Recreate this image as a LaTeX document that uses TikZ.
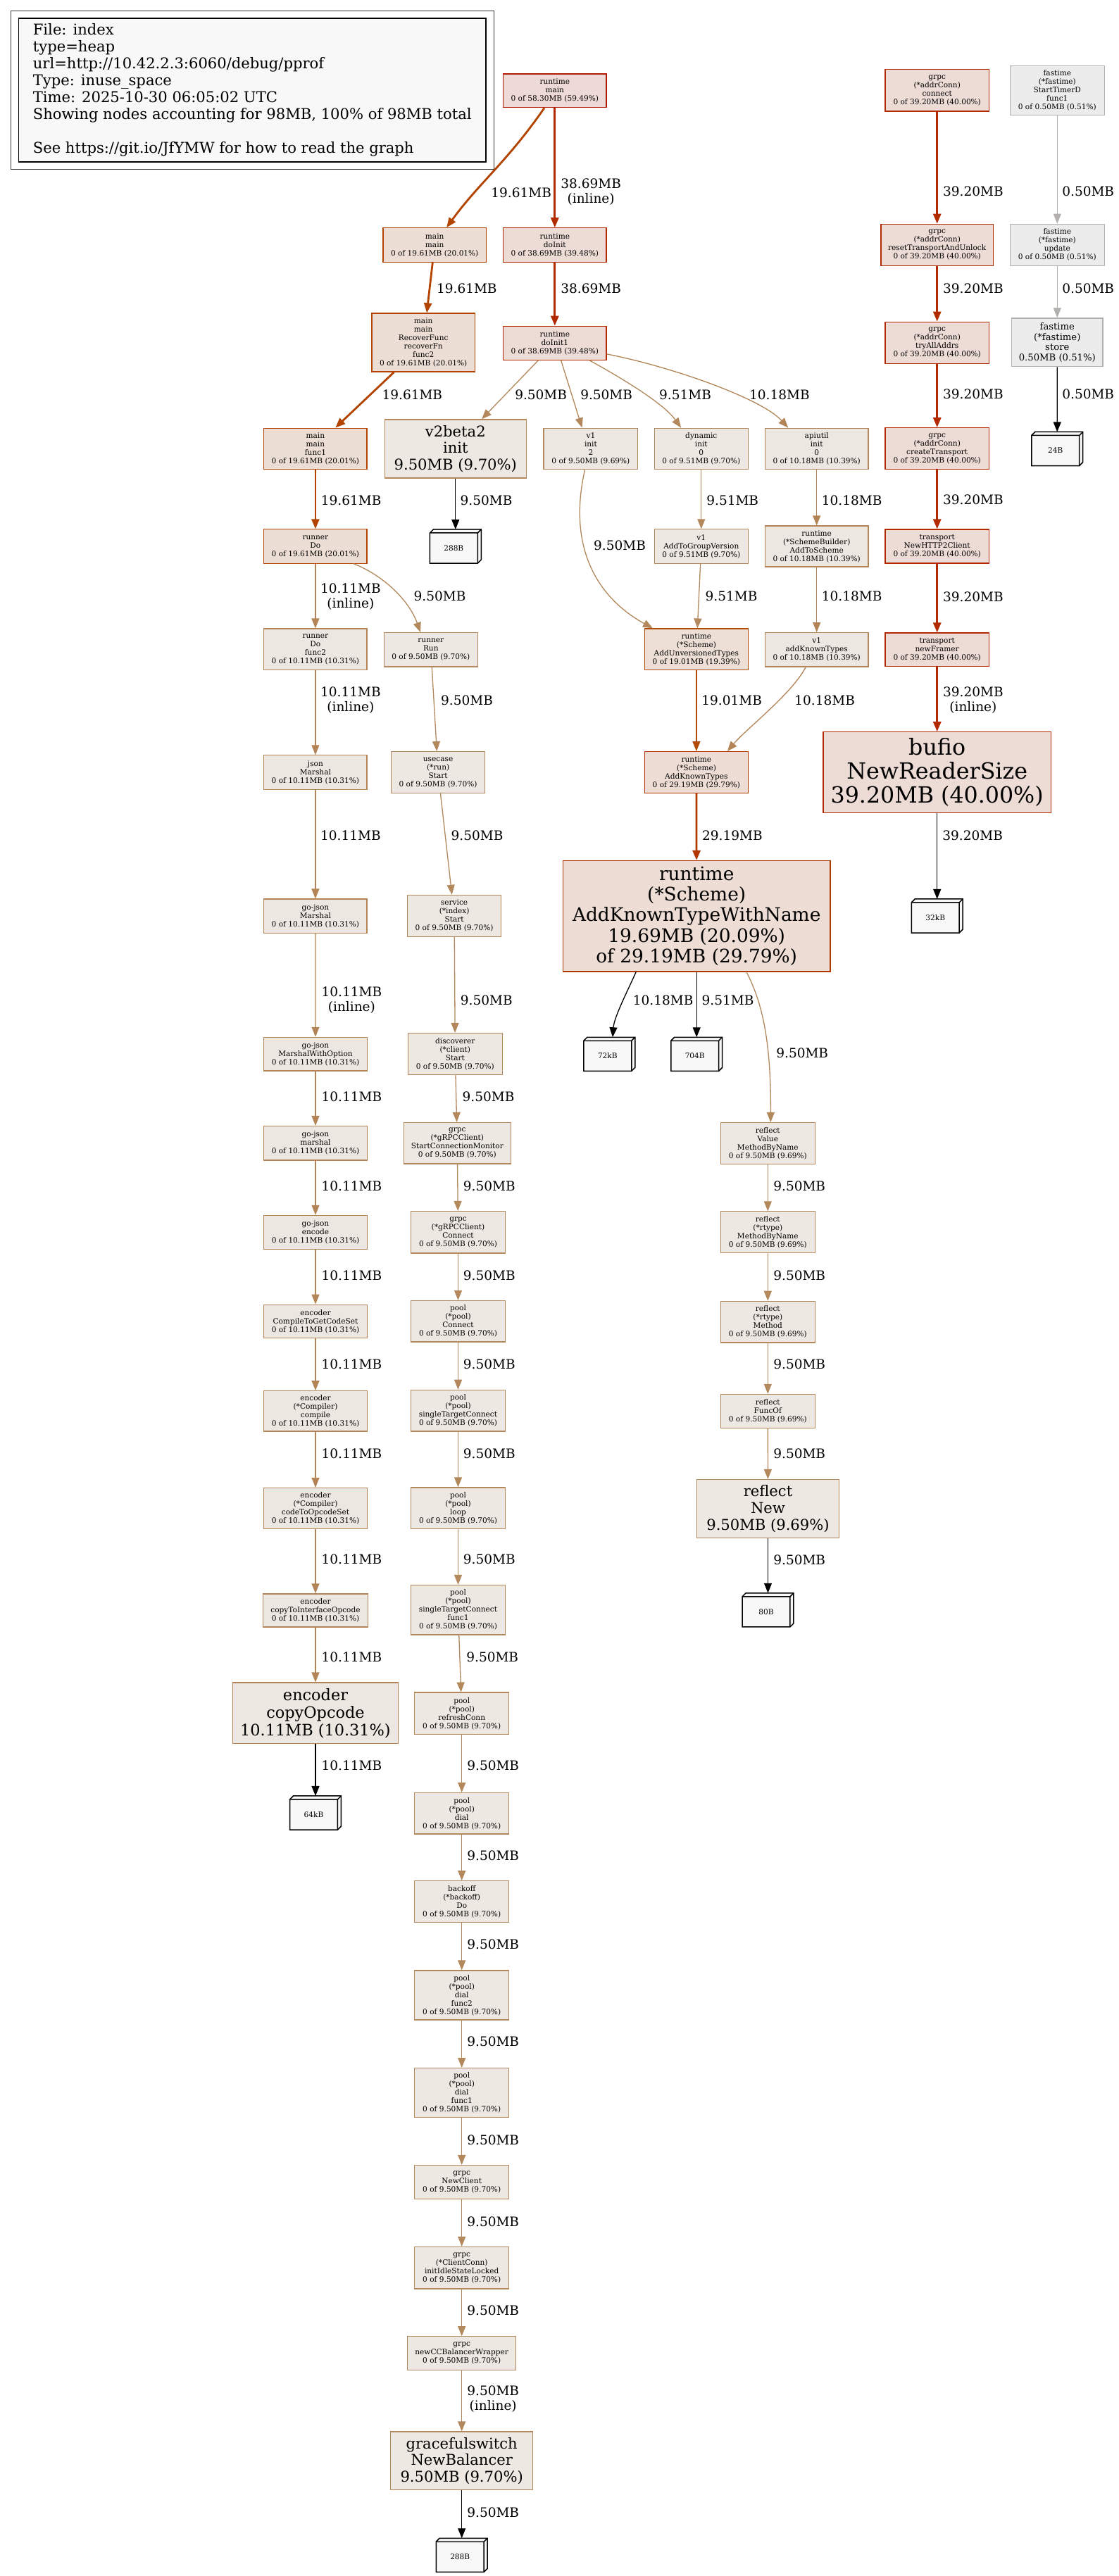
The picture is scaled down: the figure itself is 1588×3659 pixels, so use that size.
\documentclass[tikz,border=0pt]{standalone}
\usepackage{fontspec}
\setmainfont{DejaVu Serif}
\usepackage{xcolor}
\usetikzlibrary{arrows.meta}

\definecolor{hotfill}{HTML}{EDD9D5}\definecolor{hotline}{HTML}{B21A00}
\definecolor{redfill}{HTML}{EDDBD5}\definecolor{redline}{HTML}{B22B00}
\definecolor{rustfill}{HTML}{EDDDD5}\definecolor{rustline}{HTML}{B23600}
\definecolor{orgfill}{HTML}{EDDED5}\definecolor{orgline}{HTML}{B24400}
\definecolor{ambfill}{HTML}{EDDFD6}\definecolor{ambline}{HTML}{B24905}
\definecolor{tanfill}{HTML}{EDE7E1}\definecolor{tanline}{HTML}{B28456}
\definecolor{sandfill}{HTML}{EDE8E2}\definecolor{sandline}{HTML}{B2885C}
\definecolor{greyfill}{HTML}{EDECEC}\definecolor{greyline}{HTML}{B2B1AE}
\definecolor{leaffill}{HTML}{F8F8F8}

\newcommand\fnode{\fontsize{10.56pt}{12pt}\selectfont}
\newcommand\fnodeten{\fontsize{13.2pt}{14.5pt}\selectfont}
\newcommand\fedge{\fontsize{18.5pt}{21pt}\selectfont}
\newcommand\flegend{\fontsize{21.1pt}{24pt}\selectfont}
\newcommand\fbigA{\fontsize{21.1pt}{23.6pt}\selectfont}
\newcommand\fbigB{\fontsize{22.4pt}{25pt}\selectfont}
\newcommand\fbigC{\fontsize{26.4pt}{29.3pt}\selectfont}
\newcommand\fbigD{\fontsize{31.7pt}{33.9pt}\selectfont}

\newcommand\allocbox[3]{%
  \node[alloc] (#1) at (#2) {};
  \filldraw[allocline, fill=leaffill] ([yshift=-5pt]#1.north west) -- ([xshift=5pt]#1.north west) -- (#1.north east)
    -- ([yshift=5pt]#1.south east) -- ([xshift=-5pt]#1.south east) -- (#1.south west) -- cycle;
  \draw[allocline] ([yshift=-5pt]#1.north west) -- ([shift={(-5pt,-5pt)}]#1.north east) -- ([xshift=-5pt]#1.south east)
    ([shift={(-5pt,-5pt)}]#1.north east) -- (#1.north east);
  \node[font=\fnode] at ([shift={(-2.5pt,-2.5pt)}]#1.center) {#3};}

\begin{document}
\begin{tikzpicture}[
  x=1pt, y=-1pt,
  fn/.style={draw, rectangle, align=center, inner sep=1pt, line width=1.2pt, font=\fnode},
  sz/.style 2 args={minimum width=#1pt, minimum height=#2pt},
  n60/.style={fill=hotfill, draw=hotline},
  n40/.style={fill=redfill, draw=redline},
  n30/.style={fill=rustfill, draw=rustline},
  n20/.style={fill=orgfill, draw=orgline},
  n19/.style={fill=ambfill, draw=ambline},
  n10/.style={fill=tanfill, draw=tanline},
  n9/.style={fill=sandfill, draw=sandline},
  n0/.style={fill=greyfill, draw=greyline},
  alloc/.style={rectangle, minimum width=72.5pt, minimum height=47.7pt, inner sep=0pt},
  allocline/.style={draw=black, line width=1.5pt},
  arrow/.style={-{Triangle[length=14pt, width=11pt]}, line width=1.3pt},
  heavy/.style={line width=2.8pt},
  lbl/.style={font=\fedge, text=black, inner sep=0pt, anchor=west, align=center},
  legendbox/.style={draw, fill=leaffill, line width=1.4pt, align=left, font=\flegend,
                    minimum width=663.4pt, minimum height=204pt}
]
\path[use as bounding box, fill=white] (0,0) rectangle (1588,3659);

\node[legendbox] (legend) at (358.3,128) {File: index\\type=heap\\url=http://10.42.2.3:6060/debug/pprof\\Type: inuse\_space\\Time: 2025-10-30 06:05:02 UTC\\Showing nodes accounting for 98MB, 100\% of 98MB total\\[24pt]See https://git.io/JfYMW for how to read the graph};
\draw[line width=1.4pt, black!80] ([shift={(-10.6pt,10pt)}]legend.north west) rectangle ([shift={(10.6pt,-10pt)}]legend.south east);

\node[fn, n60, sz={146.5}{47.8}] (rmain) at (787.8,128.8) {runtime\\main\\0 of 58.30MB (59.49\%)};
\node[fn, n40, sz={147.3}{59.3}] (aconn) at (1330.7,128.3) {grpc\\(*addrConn)\\connect\\0 of 39.20MB (40.00\%)};
\node[fn, n0, sz={134}{70.4}] (ftfunc) at (1501.3,128.5) {fastime\\(*fastime)\\StartTimerD\\func1\\0 of 0.50MB (0.51\%)};
\node[fn, n20, sz={146.4}{48.6}] (mmain) at (617.2,348.1) {main\\main\\0 of 19.61MB (20.01\%)};
\node[fn, n40, sz={146.5}{48.6}] (doinit) at (787.8,348.1) {runtime\\doInit\\0 of 38.69MB (39.48\%)};
\node[fn, n40, sz={159.3}{59}] (areset) at (1330.7,347.8) {grpc\\(*addrConn)\\resetTransportAndUnlock\\0 of 39.20MB (40.00\%)};
\node[fn, n0, sz={134}{59}] (ftupd) at (1501.3,347.8) {fastime\\(*fastime)\\update\\0 of 0.50MB (0.51\%)};
\node[fn, n20, sz={146.4}{83}] (recover) at (601.2,486.5) {main\\main\\RecoverFunc\\recoverFn\\func2\\0 of 19.61MB (20.01\%)};
\node[fn, n40, sz={146.5}{47.8}] (doinit1) at (787.8,487.2) {runtime\\doInit1\\0 of 38.69MB (39.48\%)};
\node[fn, n40, sz={147.3}{59}] (atry) at (1330.7,486.7) {grpc\\(*addrConn)\\tryAllAddrs\\0 of 39.20MB (40.00\%)};
\node[fn, n0, sz={129.3}{68.8}, font=\fnodeten] (ftstore) at (1501.3,486.3) {fastime\\(*fastime)\\store\\0.50MB (0.51\%)};
\node[fn, n20, sz={146.3}{58.6}] (mfunc) at (447.9,637.4) {main\\main\\func1\\0 of 19.61MB (20.01\%)};
\node[fn, n9, sz={200.9}{83}, font=\fbigA] (v2init) at (646.8,637.4) {v2beta2\\init\\9.50MB (9.70\%)};
\node[fn, n9, sz={133.7}{58.6}] (v1init) at (838.9,637.4) {v1\\init\\2\\0 of 9.50MB (9.69\%)};
\node[fn, n9, sz={133.2}{58.6}] (dyninit) at (995.8,637.4) {dynamic\\init\\0\\0 of 9.51MB (9.70\%)};
\node[fn, n10, sz={146.4}{58.6}] (apiinit) at (1159.7,637.4) {apiutil\\init\\0\\0 of 10.18MB (10.39\%)};
\node[fn, n40, sz={147.3}{59}] (actrans) at (1330.7,637.2) {grpc\\(*addrConn)\\createTransport\\0 of 39.20MB (40.00\%)};
\allocbox{b24}{1501.2,637.5}{24B}
\node[fn, n20, sz={146.3}{48.3}] (rdo) at (447.9,776) {runner\\Do\\0 of 19.61MB (20.01\%)};
\allocbox{b288a}{646.8,776}{288B}
\node[fn, n9, sz={133.2}{48.3}] (addgv) at (995.8,776) {v1\\AddToGroupVersion\\0 of 9.51MB (9.70\%)};
\node[fn, n10, sz={146.4}{58}] (addsch) at (1159.7,776) {runtime\\(*SchemeBuilder)\\AddToScheme\\0 of 10.18MB (10.39\%)};
\node[fn, n40, sz={147.3}{48}] (h2client) at (1330.7,776) {transport\\NewHTTP2Client\\0 of 39.20MB (40.00\%)};
\node[fn, n10, sz={146.3}{58.8}] (rdofunc) at (447.9,922.4) {runner\\Do\\func2\\0 of 10.11MB (10.31\%)};
\node[fn, n9, sz={133.2}{48.3}] (rrun) at (611.8,922.8) {runner\\Run\\0 of 9.50MB (9.70\%)};
\node[fn, n19, sz={147}{58.8}] (addunv) at (988.9,922.4) {runtime\\(*Scheme)\\AddUnversionedTypes\\0 of 19.01MB (19.39\%)};
\node[fn, n10, sz={146.4}{48.3}] (addkt) at (1159.7,922.8) {v1\\addKnownTypes\\0 of 10.18MB (10.39\%)};
\node[fn, n40, sz={147.3}{47.4}] (framer) at (1330.7,922.7) {transport\\newFramer\\0 of 39.20MB (40.00\%)};
\node[fn, n10, sz={146.3}{48.3}] (jmarshal) at (447.9,1097) {json\\Marshal\\0 of 10.11MB (10.31\%)};
\node[fn, n9, sz={133.2}{58.8}] (ucstart) at (622.1,1097) {usecase\\(*run)\\Start\\0 of 9.50MB (9.70\%)};
\node[fn, n30, sz={147}{58.8}] (addknown) at (988.9,1097) {runtime\\(*Scheme)\\AddKnownTypes\\0 of 29.19MB (29.79\%)};
\node[fn, n40, sz={323.3}{114.5}, font=\fbigD] (bufio) at (1330.7,1097) {bufio\\NewReaderSize\\39.20MB (40.00\%)};
\node[fn, n10, sz={146.3}{48.3}] (gjmarshal) at (447.9,1301.2) {go-json\\Marshal\\0 of 10.11MB (10.31\%)};
\node[fn, n9, sz={133.2}{58.8}] (svcstart) at (645.1,1300.8) {service\\(*index)\\Start\\0 of 9.50MB (9.70\%)};
\node[fn, n30, sz={379.4}{157.4}, font=\fbigC] (aktwn) at (989.2,1301.2) {runtime\\(*Scheme)\\AddKnownTypeWithName\\19.69MB (20.09\%)\\of 29.19MB (29.79\%)};
\allocbox{b32k}{1330.7,1301}{32kB}
\node[fn, n10, sz={147.3}{47.7}] (gjmwo) at (448,1497.2) {go-json\\MarshalWithOption\\0 of 10.11MB (10.31\%)};
\node[fn, n9, sz={134}{58.6}] (dstart) at (646.3,1496.8) {discoverer\\(*client)\\Start\\0 of 9.50MB (9.70\%)};
\allocbox{b72k}{865.3,1497.3}{72kB}
\allocbox{b704}{989.2,1497.3}{704B}
\node[fn, n10, sz={147.3}{48.4}] (gjm2) at (448,1623.7) {go-json\\marshal\\0 of 10.11MB (10.31\%)};
\node[fn, n9, sz={152}{58.6}] (gscm) at (649.3,1623.7) {grpc\\(*gRPCClient)\\StartConnectionMonitor\\0 of 9.50MB (9.70\%)};
\node[fn, n9, sz={134}{58.7}] (rvmbn) at (1090.3,1623.9) {reflect\\Value\\MethodByName\\0 of 9.50MB (9.69\%)};
\node[fn, n10, sz={147.3}{48.4}] (gjenc) at (448,1750.6) {go-json\\encode\\0 of 10.11MB (10.31\%)};
\node[fn, n9, sz={134.4}{59.4}] (gconn) at (650.5,1750.2) {grpc\\(*gRPCClient)\\Connect\\0 of 9.50MB (9.70\%)};
\node[fn, n9, sz={134}{58.7}] (rtmbn) at (1090.3,1750.2) {reflect\\(*rtype)\\MethodByName\\0 of 9.50MB (9.69\%)};
\node[fn, n10, sz={147.3}{47.7}] (ecomp) at (448,1877) {encoder\\CompileToGetCodeSet\\0 of 10.11MB (10.31\%)};
\node[fn, n9, sz={134.4}{58.6}] (pconn) at (650.5,1876.7) {pool\\(*pool)\\Connect\\0 of 9.50MB (9.70\%)};
\node[fn, n9, sz={134}{58.7}] (rtmeth) at (1090.3,1877.6) {reflect\\(*rtype)\\Method\\0 of 9.50MB (9.69\%)};
\node[fn, n10, sz={147.3}{57.2}] (ecompile) at (448,2004.3) {encoder\\(*Compiler)\\compile\\0 of 10.11MB (10.31\%)};
\node[fn, n9, sz={134.4}{58.6}] (pstc) at (650.5,2003.6) {pool\\(*pool)\\singleTargetConnect\\0 of 9.50MB (9.70\%)};
\node[fn, n9, sz={134}{47.8}] (rfuncof) at (1090.3,2004.3) {reflect\\FuncOf\\0 of 9.50MB (9.69\%)};
\node[fn, n10, sz={147.3}{58}] (ecodeset) at (448,2142.6) {encoder\\(*Compiler)\\codeToOpcodeSet\\0 of 10.11MB (10.31\%)};
\node[fn, n9, sz={134.4}{58.6}] (ploop) at (650.5,2142.2) {pool\\(*pool)\\loop\\0 of 9.50MB (9.70\%)};
\node[fn, n9, sz={202.3}{83}, font=\fbigA] (rnew) at (1090.5,2143) {reflect\\New\\9.50MB (9.69\%)};
\node[fn, n10, sz={149.3}{47}] (ecopyif) at (448,2287.4) {encoder\\copyToInterfaceOpcode\\0 of 10.11MB (10.31\%)};
\node[fn, n9, sz={134.4}{70.4}] (pstcf) at (650.5,2286.7) {pool\\(*pool)\\singleTargetConnect\\func1\\0 of 9.50MB (9.70\%)};
\allocbox{b80}{1090.5,2286.8}{80B}
\node[fn, n10, sz={235.3}{86.6}, font=\fbigB] (ecopy) at (448,2433.3) {encoder\\copyOpcode\\10.11MB (10.31\%)};
\node[fn, n9, sz={134}{59.5}] (prefresh) at (655.7,2433.8) {pool\\(*pool)\\refreshConn\\0 of 9.50MB (9.70\%)};
\allocbox{b64k}{448,2575}{64kB}
\node[fn, n9, sz={134}{58.5}] (pdial) at (655.7,2575.8) {pool\\(*pool)\\dial\\0 of 9.50MB (9.70\%)};
\node[fn, n9, sz={134}{58.7}] (bodo) at (655.7,2701) {backoff\\(*backoff)\\Do\\0 of 9.50MB (9.70\%)};
\node[fn, n9, sz={134}{70}] (pdial2) at (655.7,2834) {pool\\(*pool)\\dial\\func2\\0 of 9.50MB (9.70\%)};
\node[fn, n9, sz={134}{70}] (pdial1) at (655.7,2972.6) {pool\\(*pool)\\dial\\func1\\0 of 9.50MB (9.70\%)};
\node[fn, n9, sz={134}{48}] (gnew) at (655.7,3099.5) {grpc\\NewClient\\0 of 9.50MB (9.70\%)};
\node[fn, n9, sz={134}{59.4}] (gidle) at (655.7,3221.2) {grpc\\(*ClientConn)\\initIdleStateLocked\\0 of 9.50MB (9.70\%)};
\node[fn, n9, sz={153.7}{48}] (gccbw) at (655.7,3342.8) {grpc\\newCCBalancerWrapper\\0 of 9.50MB (9.70\%)};
\node[fn, n9, sz={202}{82.7}, font=\fbigA] (gswitch) at (655.7,3495.3) {gracefulswitch\\NewBalancer\\9.50MB (9.70\%)};
\allocbox{b288b}{655.7,3629.3}{288B}

\draw[arrow, heavy, orgline] ([xshift=-14.8pt]rmain.south) .. controls (720,230) and (680,260) .. ([xshift=17pt]mmain.north) node[lbl] at (696,273.3) {19.61MB};
\draw[arrow, heavy, redline] (rmain) -- (doinit) node[lbl] at (795,272.9) {38.69MB\\(inline)};
\draw[arrow, heavy, orgline] (mmain) -- (recover) node[lbl] at (618.7,409.9) {19.61MB};
\draw[arrow, heavy, redline] (doinit) -- (doinit1) node[lbl] at (795,409.9) {38.69MB};
\draw[arrow, heavy, orgline] ([xshift=-41.7pt]recover.south) -- ([xshift=28.4pt]mfunc.north) node[lbl] at (541.2,560.3) {19.61MB};
\draw[arrow, sandline] ([xshift=-23.3pt]doinit1.south) -- ([xshift=37.3pt]v2init.north) node[lbl] at (730.6,560.3) {9.50MB};
\draw[arrow, sandline] ([xshift=8.8pt]doinit1.south) -- ([xshift=-12.4pt]v1init.north) node[lbl] at (823.6,560.3) {9.50MB};
\draw[arrow, sandline] ([xshift=49pt]doinit1.south) .. controls (870,530) and (940,570) .. ([xshift=-28.7pt]dyninit.north) node[lbl] at (935.5,560.3) {9.51MB};
\draw[arrow, tanline] ([yshift=-15.7pt]doinit1.east) .. controls (950,520) and (1080,565) .. ([xshift=-40.5pt]apiinit.north) node[lbl] at (1063.5,560.3) {10.18MB};

\draw[arrow, heavy, redline] (aconn) -- (areset) node[lbl] at (1337.7,272) {39.20MB};
\draw[arrow, heavy, redline] (areset) -- (atry) node[lbl] at (1337.7,409.6) {39.20MB};
\draw[arrow, heavy, redline] (atry) -- (actrans) node[lbl] at (1337.7,560) {39.20MB};
\draw[arrow, heavy, redline] (actrans) -- (h2client) node[lbl] at (1337.7,709.8) {39.20MB};
\draw[arrow, heavy, redline] (h2client) -- (framer) node[lbl] at (1337.7,847.3) {39.20MB};
\draw[arrow, heavy, redline] (framer) -- (bufio) node[lbl] at (1337.7,994.7) {39.20MB\\(inline)};
\draw[arrow, black] (bufio) -- (b32k) node[lbl] at (1337.7,1186.6) {39.20MB};
\draw[arrow, greyline] (ftfunc) -- (ftupd) node[lbl] at (1507.7,272) {0.50MB};
\draw[arrow, greyline] (ftupd) -- (ftstore) node[lbl] at (1507.7,409.6) {0.50MB};
\draw[arrow, black] (ftstore) -- (b24) node[lbl] at (1507.7,560) {0.50MB};

\draw[arrow, heavy, orgline] (mfunc) -- (rdo) node[lbl] at (454.5,710.7) {19.61MB};
\draw[arrow, tanline] (rdo) -- (rdofunc) node[lbl] at (454.5,847.8) {10.11MB\\(inline)};
\draw[arrow, sandline] ([xshift=54.1pt]rdo.south) .. controls (540,815) and (580,850) .. ([xshift=-14.8pt]rrun.north) node[lbl] at (587,847) {9.50MB};
\draw[arrow, tanline] (rdofunc) -- (jmarshal) node[lbl] at (454.5,994.2) {10.11MB\\(inline)};
\draw[arrow, tanline] (jmarshal) -- (gjmarshal) node[lbl] at (454.5,1186.7) {10.11MB};
\draw[arrow, tanline] (gjmarshal) -- (gjmwo) node[lbl] at (456,1421) {10.11MB\\(inline)};
\draw[arrow, tanline] (gjmwo) -- (gjm2) node[lbl] at (456,1557.7) {10.11MB};
\draw[arrow, tanline] (gjm2) -- (gjenc) node[lbl] at (456,1684.6) {10.11MB};
\draw[arrow, tanline] (gjenc) -- (ecomp) node[lbl] at (456,1811.4) {10.11MB};
\draw[arrow, tanline] (ecomp) -- (ecompile) node[lbl] at (456,1937.6) {10.11MB};
\draw[arrow, tanline] (ecompile) -- (ecodeset) node[lbl] at (456,2064.5) {10.11MB};
\draw[arrow, tanline] (ecodeset) -- (ecopyif) node[lbl] at (456,2214.8) {10.11MB};
\draw[arrow, tanline] (ecopyif) -- (ecopy) node[lbl] at (456,2354.2) {10.11MB};
\draw[arrow, black] (ecopy) -- (b64k) node[lbl] at (456,2508.2) {10.11MB};

\draw[arrow, black] (v2init) -- (b288a) node[lbl] at (653,710.7) {9.50MB};
\draw[arrow, sandline] (rrun) -- (ucstart) node[lbl] at (625.5,994.4) {9.50MB};
\draw[arrow, sandline] (ucstart) -- (svcstart) node[lbl] at (640,1186.7) {9.50MB};
\draw[arrow, sandline] (svcstart) -- (dstart) node[lbl] at (653.3,1420.5) {9.50MB};
\draw[arrow, sandline] (dstart) -- (gscm) node[lbl] at (656,1557.7) {9.50MB};
\draw[arrow, sandline] (gscm) -- (gconn) node[lbl] at (657.3,1684.6) {9.50MB};
\draw[arrow, sandline] (gconn) -- (pconn) node[lbl] at (657.3,1811.4) {9.50MB};
\draw[arrow, sandline] (pconn) -- (pstc) node[lbl] at (657.3,1937.6) {9.50MB};
\draw[arrow, sandline] (pstc) -- (ploop) node[lbl] at (657.3,2064.5) {9.50MB};
\draw[arrow, sandline] (ploop) -- (pstcf) node[lbl] at (657.3,2214.8) {9.50MB};
\draw[arrow, sandline] (pstcf) -- (prefresh) node[lbl] at (661.7,2354.2) {9.50MB};
\draw[arrow, sandline] (prefresh) -- (pdial) node[lbl] at (662.7,2508.2) {9.50MB};
\draw[arrow, sandline] (pdial) -- (bodo) node[lbl] at (662.7,2635.6) {9.50MB};
\draw[arrow, sandline] (bodo) -- (pdial2) node[lbl] at (662.7,2762.2) {9.50MB};
\draw[arrow, sandline] (pdial2) -- (pdial1) node[lbl] at (662.7,2900.1) {9.50MB};
\draw[arrow, sandline] (pdial1) -- (gnew) node[lbl] at (662.7,3039.4) {9.50MB};
\draw[arrow, sandline] (gnew) -- (gidle) node[lbl] at (662.7,3156.1) {9.50MB};
\draw[arrow, sandline] (gidle) -- (gccbw) node[lbl] at (662.7,3282) {9.50MB};
\draw[arrow, sandline] (gccbw) -- (gswitch) node[lbl] at (662.7,3407.9) {9.50MB\\(inline)};
\draw[arrow, black] (gswitch) -- (b288b) node[lbl] at (662.7,3569.2) {9.50MB};

\draw[arrow, sandline] ([xshift=-8.4pt]v1init.south) .. controls (805,780) and (850,850) .. ([xshift=-61.9pt]addunv.north) node[lbl] at (842.5,774.4) {9.50MB};
\draw[arrow, sandline] (dyninit) -- (addgv) node[lbl] at (1002.7,710.7) {9.51MB};
\draw[arrow, sandline] (addgv) -- (addunv) node[lbl] at (1001,847) {9.51MB};
\draw[arrow, tanline] (apiinit) -- (addsch) node[lbl] at (1166.3,710.7) {10.18MB};
\draw[arrow, tanline] (addsch) -- (addkt) node[lbl] at (1166.3,847) {10.18MB};
\draw[arrow, ambline] (addunv) -- (addknown) node[lbl] at (995.8,994.4) {19.01MB};
\draw[arrow, tanline] ([xshift=-15.6pt]addkt.south) .. controls (1125,985) and (1060,1035) .. ([xshift=44pt]addknown.north) node[lbl] at (1127.8,994.4) {10.18MB};
\draw[arrow, heavy, rustline] (addknown) -- (aktwn) node[lbl] at (995.8,1186.7) {29.19MB};
\draw[arrow, black] ([xshift=-86pt]aktwn.south) .. controls (890,1410) and (872,1445) .. ([xshift=4.7pt]b72k.north) node[lbl] at (898.3,1421) {10.18MB};
\draw[arrow, black] (aktwn) -- (b704) node[lbl] at (996,1421) {9.51MB};
\draw[arrow, sandline] ([xshift=70.8pt]aktwn.south) .. controls (1080,1420) and (1095,1470) .. ([xshift=4pt]rvmbn.north) node[lbl] at (1101.7,1495.7) {9.50MB};
\draw[arrow, sandline] (rvmbn) -- (rtmbn) node[lbl] at (1097.7,1685.1) {9.50MB};
\draw[arrow, sandline] (rtmbn) -- (rtmeth) node[lbl] at (1097.7,1811.4) {9.50MB};
\draw[arrow, sandline] (rtmeth) -- (rfuncof) node[lbl] at (1097.7,1937.6) {9.50MB};
\draw[arrow, sandline] (rfuncof) -- (rnew) node[lbl] at (1097.7,2065.2) {9.50MB};
\draw[arrow, black] (rnew) -- (b80) node[lbl] at (1097.7,2215.7) {9.50MB};
\end{tikzpicture}
\end{document}
